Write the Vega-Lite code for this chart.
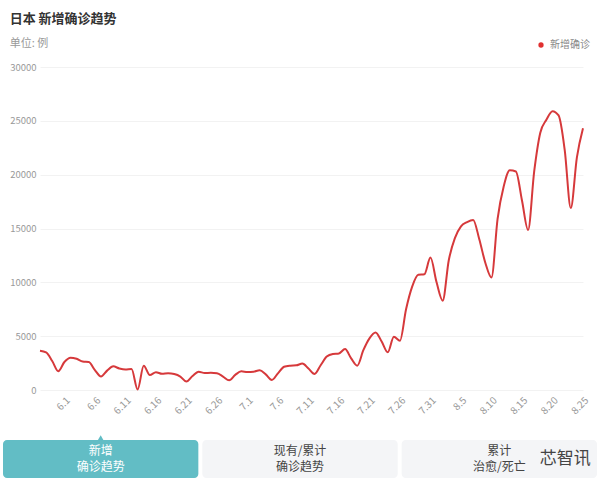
{
  "$schema": "https://vega.github.io/schema/vega-lite/v6.json",
  "padding": {"left": 3, "top": 13, "right": 0, "bottom": 0},
  "background": "white",
  "spacing": 19,
  "config": {
    "view": {"stroke": null},
    "font": "Noto Sans CJK SC"
  },
  "vconcat": [
    {
      "title": {
        "text": "日本 新增确诊趋势",
        "subtitle": "单位: 例",
        "anchor": "start",
        "frame": "bounds",
        "fontSize": 13,
        "fontWeight": "bold",
        "color": "#333333",
        "subtitleColor": "#999999",
        "subtitleFontSize": 11,
        "subtitlePadding": 12,
        "offset": 13
      },
      "width": 543,
      "height": 323,
      "data": {
        "values": [
          {"date": "5.28", "cases": 3650, "series": "新增确诊"},
          {"date": "5.29", "cases": 3500, "series": "新增确诊"},
          {"date": "5.30", "cases": 2700, "series": "新增确诊"},
          {"date": "5.31", "cases": 1750, "series": "新增确诊"},
          {"date": "6.1", "cases": 2600, "series": "新增确诊"},
          {"date": "6.2", "cases": 3000, "series": "新增确诊"},
          {"date": "6.3", "cases": 2900, "series": "新增确诊"},
          {"date": "6.4", "cases": 2650, "series": "新增确诊"},
          {"date": "6.5", "cases": 2600, "series": "新增确诊"},
          {"date": "6.6", "cases": 1850, "series": "新增确诊"},
          {"date": "6.7", "cases": 1250, "series": "新增确诊"},
          {"date": "6.8", "cases": 1800, "series": "新增确诊"},
          {"date": "6.9", "cases": 2200, "series": "新增确诊"},
          {"date": "6.10", "cases": 2000, "series": "新增确诊"},
          {"date": "6.11", "cases": 1900, "series": "新增确诊"},
          {"date": "6.12", "cases": 1950, "series": "新增确诊"},
          {"date": "6.13", "cases": 50, "series": "新增确诊"},
          {"date": "6.14", "cases": 2260, "series": "新增确诊"},
          {"date": "6.15", "cases": 1400, "series": "新增确诊"},
          {"date": "6.16", "cases": 1650, "series": "新增确诊"},
          {"date": "6.17", "cases": 1500, "series": "新增确诊"},
          {"date": "6.18", "cases": 1550, "series": "新增确诊"},
          {"date": "6.19", "cases": 1480, "series": "新增确诊"},
          {"date": "6.20", "cases": 1250, "series": "新增确诊"},
          {"date": "6.21", "cases": 780, "series": "新增确诊"},
          {"date": "6.22", "cases": 1300, "series": "新增确诊"},
          {"date": "6.23", "cases": 1700, "series": "新增确诊"},
          {"date": "6.24", "cases": 1580, "series": "新增确诊"},
          {"date": "6.25", "cases": 1600, "series": "新增确诊"},
          {"date": "6.26", "cases": 1550, "series": "新增确诊"},
          {"date": "6.27", "cases": 1250, "series": "新增确诊"},
          {"date": "6.28", "cases": 900, "series": "新增确诊"},
          {"date": "6.29", "cases": 1400, "series": "新增确诊"},
          {"date": "6.30", "cases": 1730, "series": "新增确诊"},
          {"date": "7.1", "cases": 1670, "series": "新增确诊"},
          {"date": "7.2", "cases": 1700, "series": "新增确诊"},
          {"date": "7.3", "cases": 1830, "series": "新增确诊"},
          {"date": "7.4", "cases": 1450, "series": "新增确诊"},
          {"date": "7.5", "cases": 930, "series": "新增确诊"},
          {"date": "7.6", "cases": 1550, "series": "新增确诊"},
          {"date": "7.7", "cases": 2160, "series": "新增确诊"},
          {"date": "7.8", "cases": 2260, "series": "新增确诊"},
          {"date": "7.9", "cases": 2290, "series": "新增确诊"},
          {"date": "7.10", "cases": 2450, "series": "新增确诊"},
          {"date": "7.11", "cases": 2000, "series": "新增确诊"},
          {"date": "7.12", "cases": 1490, "series": "新增确诊"},
          {"date": "7.13", "cases": 2300, "series": "新增确诊"},
          {"date": "7.14", "cases": 3100, "series": "新增确诊"},
          {"date": "7.15", "cases": 3350, "series": "新增确诊"},
          {"date": "7.16", "cases": 3400, "series": "新增确诊"},
          {"date": "7.17", "cases": 3800, "series": "新增确诊"},
          {"date": "7.18", "cases": 2940, "series": "新增确诊"},
          {"date": "7.19", "cases": 2260, "series": "新增确诊"},
          {"date": "7.20", "cases": 3700, "series": "新增确诊"},
          {"date": "7.21", "cases": 4800, "series": "新增确诊"},
          {"date": "7.22", "cases": 5350, "series": "新增确诊"},
          {"date": "7.23", "cases": 4500, "series": "新增确诊"},
          {"date": "7.24", "cases": 3500, "series": "新增确诊"},
          {"date": "7.25", "cases": 4950, "series": "新增确诊"},
          {"date": "7.26", "cases": 4580, "series": "新增确诊"},
          {"date": "7.27", "cases": 7500, "series": "新增确诊"},
          {"date": "7.28", "cases": 9600, "series": "新增确诊"},
          {"date": "7.29", "cases": 10700, "series": "新增确诊"},
          {"date": "7.30", "cases": 10750, "series": "新增确诊"},
          {"date": "7.31", "cases": 12300, "series": "新增确诊"},
          {"date": "8.1", "cases": 10000, "series": "新增确诊"},
          {"date": "8.2", "cases": 8300, "series": "新增确诊"},
          {"date": "8.3", "cases": 12050, "series": "新增确诊"},
          {"date": "8.4", "cases": 14100, "series": "新增确诊"},
          {"date": "8.5", "cases": 15200, "series": "新增确诊"},
          {"date": "8.6", "cases": 15600, "series": "新增确诊"},
          {"date": "8.7", "cases": 15800, "series": "新增确诊"},
          {"date": "8.8", "cases": 14000, "series": "新增确诊"},
          {"date": "8.9", "cases": 11800, "series": "新增确诊"},
          {"date": "8.10", "cases": 10450, "series": "新增确诊"},
          {"date": "8.11", "cases": 15900, "series": "新增确诊"},
          {"date": "8.12", "cases": 18900, "series": "新增确诊"},
          {"date": "8.13", "cases": 20400, "series": "新增确诊"},
          {"date": "8.14", "cases": 20300, "series": "新增确诊"},
          {"date": "8.15", "cases": 17600, "series": "新增确诊"},
          {"date": "8.16", "cases": 14850, "series": "新增确诊"},
          {"date": "8.17", "cases": 20300, "series": "新增确诊"},
          {"date": "8.18", "cases": 23900, "series": "新增确诊"},
          {"date": "8.19", "cases": 25100, "series": "新增确诊"},
          {"date": "8.20", "cases": 25900, "series": "新增确诊"},
          {"date": "8.21", "cases": 25500, "series": "新增确诊"},
          {"date": "8.22", "cases": 22300, "series": "新增确诊"},
          {"date": "8.23", "cases": 16900, "series": "新增确诊"},
          {"date": "8.24", "cases": 21600, "series": "新增确诊"},
          {"date": "8.25", "cases": 24300, "series": "新增确诊"}
        ]
      },
      "mark": {"type": "line", "interpolate": "monotone", "strokeWidth": 2},
      "encoding": {
        "x": {
          "field": "date",
          "type": "ordinal",
          "sort": null,
          "scale": {"type": "point", "padding": 0},
          "axis": {
            "title": null,
            "values": ["6.1", "6.6", "6.11", "6.16", "6.21", "6.26", "7.1", "7.6", "7.11", "7.16", "7.21", "7.26", "7.31", "8.5", "8.10", "8.15", "8.20", "8.25"],
            "labelAngle": -45,
            "labelColor": "#999999",
            "labelFontSize": 10,
            "labelPadding": 5,
            "domain": false,
            "ticks": false,
            "grid": false
          }
        },
        "y": {
          "field": "cases",
          "type": "quantitative",
          "scale": {"domain": [0, 30000]},
          "axis": {
            "title": null,
            "format": "d",
            "values": [0, 5000, 10000, 15000, 20000, 25000, 30000],
            "labelColor": "#999999",
            "labelFontSize": 9.5,
            "labelPadding": 4,
            "domain": false,
            "ticks": false,
            "gridColor": "#f2f2f2"
          }
        },
        "color": {
          "field": "series",
          "type": "nominal",
          "scale": {"range": ["#d6393b"]},
          "legend": {
            "title": null,
            "orient": "none",
            "legendX": 496,
            "legendY": -27,
            "symbolType": "circle",
            "symbolSize": 28,
            "labelColor": "#888888",
            "labelFontSize": 10,
            "encode": {"symbols": {"update": {"fill": {"value": "#e03030"}, "strokeWidth": {"value": 0}}}}
          }
        }
      }
    },
    {
      "width": 520,
      "height": 38,
      "data": {
        "values": [
          {"tab": "新增\n确诊趋势", "active": 1},
          {"tab": "现有/累计\n确诊趋势", "active": 0},
          {"tab": "累计\n治愈/死亡", "active": 0}
        ]
      },
      "encoding": {
        "x": {
          "field": "tab",
          "type": "nominal",
          "sort": null,
          "axis": null,
          "scale": {"paddingInner": 0.02, "paddingOuter": 0, "range": [-37, 557]}
        }
      },
      "layer": [
        {
          "mark": {"type": "bar", "cornerRadius": 4},
          "encoding": {
            "color": {
              "condition": {"test": "datum.active == 1", "value": "#62bdc5"},
              "value": "#f4f5f7"
            }
          }
        },
        {
          "transform": [{"filter": "datum.active == 1"}],
          "mark": {"type": "point", "shape": "triangle-up", "filled": true, "size": 40, "yOffset": -21, "color": "#62bdc5", "opacity": 1}
        },
        {
          "mark": {"type": "text", "lineBreak": "\n", "fontSize": 12, "lineHeight": 16, "baseline": "middle", "dy": -8},
          "encoding": {
            "text": {"field": "tab"},
            "color": {
              "condition": {"test": "datum.active == 1", "value": "#ffffff"},
              "value": "#444444"
            }
          }
        },
        {
          "transform": [{"filter": "datum.active == 0 && indexof(datum.tab, '治愈') >= 0"}],
          "mark": {"type": "text", "text": "芯智讯", "fontSize": 17, "dx": 66, "color": "#444444", "baseline": "middle"}
        }
      ]
    }
  ]
}
